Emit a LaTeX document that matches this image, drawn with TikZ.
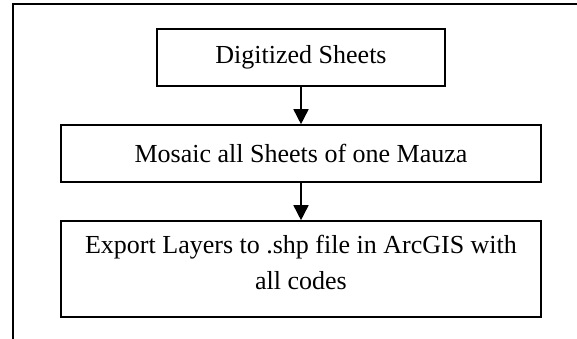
\documentclass[tikz,border=0pt]{standalone}
\usepackage{fontspec}
\setmainfont{Liberation Serif}
\usetikzlibrary{arrows.meta}
\begin{document}
\begin{tikzpicture}[x=1pt, y=-1pt,
  frameline/.style={line width=1.7pt, black},
  stepbox/.style={draw, line width=1.6pt, rectangle, inner sep=0pt,
    font=\fontsize{26}{33}\selectfont},
  flow/.style={line width=1.6pt, -{Triangle[length=15pt, width=15pt]}}]
  \useasboundingbox (0,0) rectangle (577,339);
  % open frame round the chart
  \draw[frameline] (13,339) -- (13,4) -- (577,4);
  % the three steps
  \node[stepbox, minimum width=288pt, minimum height=57pt] (sheets) at (301,57.5) {Digitized Sheets};
  \node[stepbox, minimum width=480pt, minimum height=57pt] (mosaic) at (301,153.5) {Mosaic all Sheets of one Mauza};
  \node[stepbox, minimum width=480pt, minimum height=96pt] (export) at (301,269) {};
  \node[anchor=north, align=center, inner sep=0pt, font=\fontsize{26}{36}\selectfont]
    (exporttext) at ([yshift=-15pt]export.north) {Export Layers to .shp file in ArcGIS with\\all codes};
  % connectors
  \draw[flow] (sheets.south) -- (mosaic.north);
  \draw[flow] (mosaic.south) -- (export.north);
\end{tikzpicture}
\end{document}
